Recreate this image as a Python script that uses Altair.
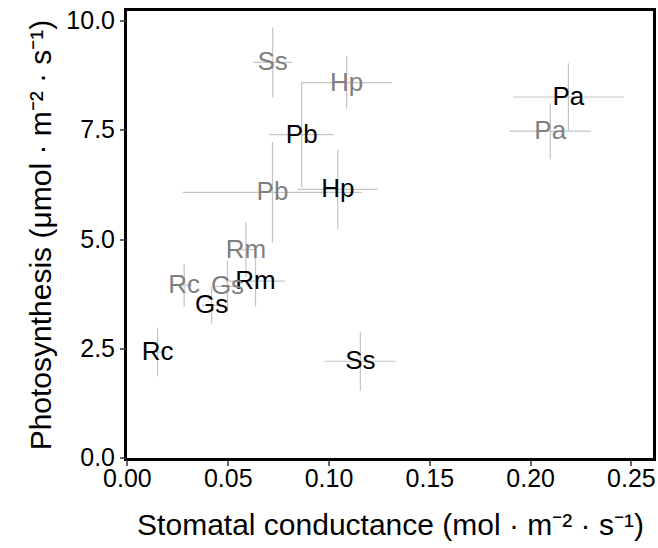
import altair as alt
import pandas as pd

# Species labels and groups
species = ["Pa", "Pb", "Hp", "Rm", "Gs", "Rc", "Ss",
           "Pa", "Pb", "Hp", "Rm", "Gs", "Rc", "Ss"]
group = ["A"] * 7 + ["B"] * 7

# Stomatal conductance (mean and error)
gs_mean = [0.219, 0.0867, 0.1046, 0.0638, 0.042, 0.0152, 0.1158,
           0.210, 0.0722, 0.109, 0.059, 0.0499, 0.0284, 0.0723]
gs_err = [0.0275, 0.0161, 0.0198, 0.0145, 0.005, 0.004, 0.0178,
          0.0202, 0.0444, 0.0225, 0.005, 0.006, 0.004, 0.0097]

# Photosynthesis (mean and error)
a_mean = [8.25, 7.39, 6.14, 4.04, 3.49, 2.42, 2.21,
          7.47, 6.07, 8.58, 4.76, 3.92, 3.95, 9.04]
a_err = [0.77, 1.20, 0.90, 0.58, 0.42, 0.56, 0.67,
         0.64, 1.15, 0.60, 0.63, 0.59, 0.49, 0.80]

x_ticks = [0.0, 0.05, 0.10, 0.15, 0.20, 0.25]
y_ticks = [0.0, 2.5, 5.0, 7.5, 10.0]

df = pd.DataFrame({
    "species": species,
    "group": group,
    "gs": gs_mean,
    "gs_lo": [m - e for m, e in zip(gs_mean, gs_err)],
    "gs_hi": [m + e for m, e in zip(gs_mean, gs_err)],
    "a": a_mean,
    "a_lo": [m - e for m, e in zip(a_mean, a_err)],
    "a_hi": [m + e for m, e in zip(a_mean, a_err)],
})

FONT = "Liberation Sans"
xscale = alt.Scale(domain=[-0.0007, 0.2617], nice=False, zero=False)
yscale = alt.Scale(domain=[-0.035, 10.25], nice=False, zero=False)

xaxis = alt.Axis(values=x_ticks, format=".2f",
                 title="Stomatal conductance (mol · m⁻² · s⁻¹)")
yaxis = alt.Axis(values=y_ticks, format=".1f",
                 title="Photosynthesis (μmol · m⁻² · s⁻¹)")

base = alt.Chart(df)

hbar = base.mark_rule(color="#c4c4c4", strokeWidth=1.2).encode(
    x=alt.X("gs_lo:Q", scale=xscale, axis=xaxis),
    x2="gs_hi:Q",
    y=alt.Y("a:Q", scale=yscale, axis=yaxis),
)
vbar = base.mark_rule(color="#c4c4c4", strokeWidth=1.2).encode(
    x=alt.X("gs:Q", scale=xscale, axis=xaxis),
    y=alt.Y("a_lo:Q", scale=yscale, axis=yaxis),
    y2="a_hi:Q",
)
labels = base.mark_text(font=FONT, fontSize=26, baseline="middle", align="center").encode(
    x=alt.X("gs:Q", scale=xscale, axis=xaxis),
    y=alt.Y("a:Q", scale=yscale, axis=yaxis),
    text="species:N",
    color=alt.Color("group:N", scale=alt.Scale(domain=["A", "B"], range=["#000000", "#7f7f7f"]), legend=None),
)

chart = alt.layer(hbar, vbar, labels).properties(
    width=529,
    height=450,
    autosize=alt.AutoSizeParams(type="none"),
    padding={"left": 125.5, "top": 9.5, "right": 3.5, "bottom": 88.5},
).configure_view(
    stroke="black", strokeWidth=3
).configure_axis(
    grid=False,
    domain=False,
    labelFont=FONT,
    labelFontSize=25,
    labelColor="#000000",
    tickColor="#333333",
    tickWidth=1.5,
    tickSize=6,
    titleFont=FONT,
    titleFontSize=30,
    titleFontWeight="normal",
    titleColor="#000000",
).configure_axisX(
    labelPadding=1,
    titlePadding=19,
).configure_axisY(
    labelPadding=5,
    titlePadding=9,
)

chart.save("out.html", embed_options={"renderer": "svg", "actions": False})
